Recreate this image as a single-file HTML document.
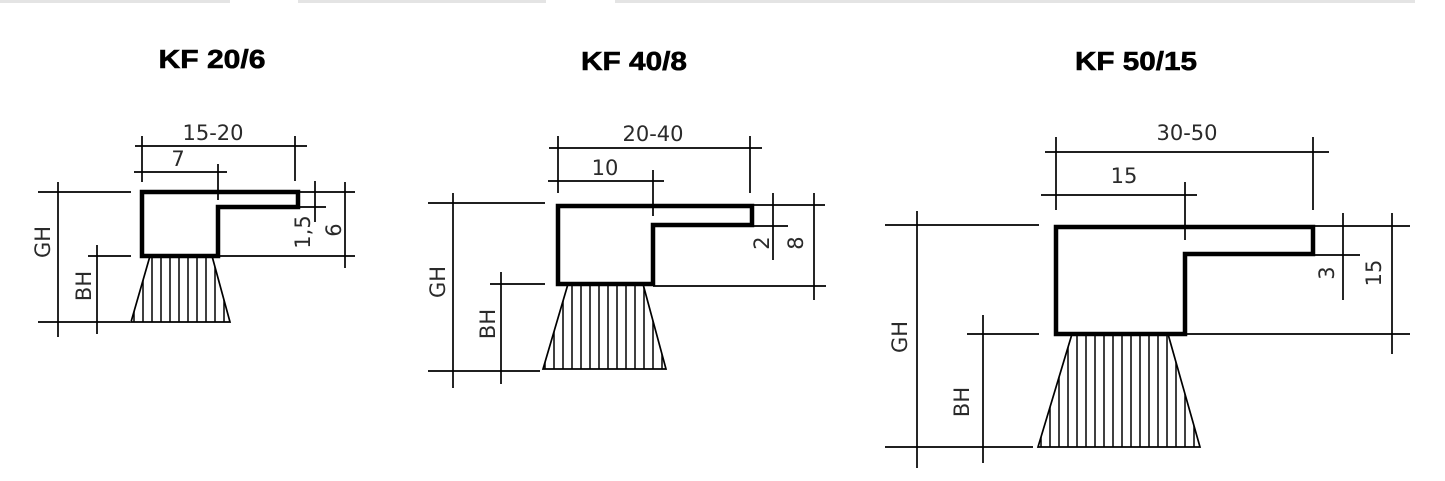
<!DOCTYPE html>
<html><head><meta charset="utf-8"><style>
html,body{margin:0;padding:0;background:#fff;}
svg{display:block;}
.t{font-family:"Liberation Sans",Arial,sans-serif;font-weight:bold;font-size:26px;fill:#000;stroke:#000;stroke-width:0.6;}
.d{font-family:"DejaVu Sans","Liberation Sans",sans-serif;font-size:21px;fill:#2a2a2a;}
.l{stroke:#000;stroke-width:1.7;fill:none;}
.p{stroke:#000;stroke-width:4.5;fill:none;stroke-linejoin:miter;}
.h{stroke:#000;stroke-width:1.5;}
</style></head><body>
<svg width="1445" height="481" viewBox="0 0 1445 481" xmlns="http://www.w3.org/2000/svg">
<defs>
<clipPath id="c1"><polygon points="150,256 212,256 230,322 131,322"/></clipPath>
<clipPath id="c2"><polygon points="568,284 643,284 666,369 543,369"/></clipPath>
<clipPath id="c3"><polygon points="1072,334 1168,334 1200,447 1038,447"/></clipPath>
</defs>
<rect x="0" y="0" width="230" height="3" fill="#e4e4e4"/>
<rect x="298" y="0" width="248" height="3" fill="#e4e4e4"/>
<rect x="615" y="0" width="800" height="3" fill="#e4e4e4"/>

<text class="t" x="212" y="68" text-anchor="middle" textLength="107" lengthAdjust="spacingAndGlyphs">KF 20/6</text>
<text class="t" x="634" y="70" text-anchor="middle" textLength="106" lengthAdjust="spacingAndGlyphs">KF 40/8</text>
<text class="t" x="1136" y="70" text-anchor="middle" textLength="122" lengthAdjust="spacingAndGlyphs">KF 50/15</text>

<!-- ===== Diagram 1 ===== -->
<g>
<path class="p" d="M142,192 L298,192 L298,207 L218,207 L218,256 L142,256 Z"/>
<polygon points="150,256 212,256 230,322 131,322" class="l"/>
<g clip-path="url(#c1)">
<g class="h">
<line x1="134" y1="256" x2="134" y2="322"/><line x1="143" y1="256" x2="143" y2="322"/>
<line x1="152" y1="256" x2="152" y2="322"/><line x1="161" y1="256" x2="161" y2="322"/>
<line x1="170" y1="256" x2="170" y2="322"/><line x1="179" y1="256" x2="179" y2="322"/>
<line x1="188" y1="256" x2="188" y2="322"/><line x1="197" y1="256" x2="197" y2="322"/>
<line x1="206" y1="256" x2="206" y2="322"/><line x1="215" y1="256" x2="215" y2="322"/>
<line x1="224" y1="256" x2="224" y2="322"/>
</g></g>
<line class="l" x1="135" y1="146" x2="307" y2="146"/>
<line class="l" x1="142" y1="136" x2="142" y2="182"/>
<line class="l" x1="295" y1="136" x2="295" y2="181"/>
<line class="l" x1="134" y1="172" x2="227" y2="172"/>
<line class="l" x1="218" y1="164" x2="218" y2="200"/>
<text class="d" x="213" y="140" text-anchor="middle">15-20</text>
<text class="d" x="178" y="166" text-anchor="middle">7</text>
<line class="l" x1="38" y1="192" x2="131" y2="192"/>
<line class="l" x1="38" y1="322" x2="130" y2="322"/>
<line class="l" x1="58" y1="182" x2="58" y2="337"/>
<line class="l" x1="88" y1="256" x2="131" y2="256"/>
<line class="l" x1="97" y1="245" x2="97" y2="334"/>
<text class="d" transform="translate(50,242) rotate(-90)" text-anchor="middle">GH</text>
<text class="d" transform="translate(91,286) rotate(-90)" text-anchor="middle">BH</text>
<line class="l" x1="298" y1="192" x2="355" y2="192"/>
<line class="l" x1="298" y1="207" x2="326" y2="207"/>
<line class="l" x1="218" y1="256" x2="355" y2="256"/>
<line class="l" x1="315" y1="181" x2="315" y2="222"/>
<line class="l" x1="345" y1="182" x2="345" y2="268"/>
<text class="d" transform="translate(310,232) rotate(-90)" text-anchor="middle">1,5</text>
<text class="d" transform="translate(341,230) rotate(-90)" text-anchor="middle">6</text>
</g>

<!-- ===== Diagram 2 ===== -->
<g>
<path class="p" d="M558,206 L752,206 L752,225 L653,225 L653,284 L558,284 Z"/>
<polygon points="568,284 643,284 666,369 543,369" class="l"/>
<g clip-path="url(#c2)">
<g class="h">
<line x1="545" y1="284" x2="545" y2="369"/><line x1="554" y1="284" x2="554" y2="369"/>
<line x1="563" y1="284" x2="563" y2="369"/><line x1="572" y1="284" x2="572" y2="369"/>
<line x1="581" y1="284" x2="581" y2="369"/><line x1="590" y1="284" x2="590" y2="369"/>
<line x1="599" y1="284" x2="599" y2="369"/><line x1="608" y1="284" x2="608" y2="369"/>
<line x1="617" y1="284" x2="617" y2="369"/><line x1="626" y1="284" x2="626" y2="369"/>
<line x1="635" y1="284" x2="635" y2="369"/><line x1="644" y1="284" x2="644" y2="369"/>
<line x1="653" y1="284" x2="653" y2="369"/><line x1="662" y1="284" x2="662" y2="369"/>
</g></g>
<line class="l" x1="549" y1="148" x2="762" y2="148"/>
<line class="l" x1="558" y1="136" x2="558" y2="193"/>
<line class="l" x1="750" y1="136" x2="750" y2="193"/>
<line class="l" x1="548" y1="181" x2="664" y2="181"/>
<line class="l" x1="653" y1="170" x2="653" y2="216"/>
<text class="d" x="653" y="141" text-anchor="middle">20-40</text>
<text class="d" x="605" y="175" text-anchor="middle">10</text>
<line class="l" x1="428" y1="203" x2="545" y2="203"/>
<line class="l" x1="428" y1="371" x2="540" y2="371"/>
<line class="l" x1="453" y1="193" x2="453" y2="388"/>
<line class="l" x1="490" y1="284" x2="545" y2="284"/>
<line class="l" x1="501" y1="272" x2="501" y2="384"/>
<text class="d" transform="translate(445,282) rotate(-90)" text-anchor="middle">GH</text>
<text class="d" transform="translate(495,324) rotate(-90)" text-anchor="middle">BH</text>
<line class="l" x1="752" y1="205" x2="825" y2="205"/>
<line class="l" x1="752" y1="226" x2="788" y2="226"/>
<line class="l" x1="653" y1="286" x2="826" y2="286"/>
<line class="l" x1="773" y1="193" x2="773" y2="260"/>
<line class="l" x1="814" y1="193" x2="814" y2="300"/>
<text class="d" transform="translate(769,243) rotate(-90)" text-anchor="middle">2</text>
<text class="d" transform="translate(803,243) rotate(-90)" text-anchor="middle">8</text>
</g>

<!-- ===== Diagram 3 ===== -->
<g>
<path class="p" d="M1056,227 L1313,227 L1313,254 L1185,254 L1185,334 L1056,334 Z"/>
<polygon points="1072,334 1168,334 1200,447 1038,447" class="l"/>
<g clip-path="url(#c3)">
<g class="h">
<line x1="1041" y1="334" x2="1041" y2="447"/><line x1="1050" y1="334" x2="1050" y2="447"/>
<line x1="1059" y1="334" x2="1059" y2="447"/><line x1="1068" y1="334" x2="1068" y2="447"/>
<line x1="1077" y1="334" x2="1077" y2="447"/><line x1="1086" y1="334" x2="1086" y2="447"/>
<line x1="1095" y1="334" x2="1095" y2="447"/><line x1="1104" y1="334" x2="1104" y2="447"/>
<line x1="1113" y1="334" x2="1113" y2="447"/><line x1="1122" y1="334" x2="1122" y2="447"/>
<line x1="1131" y1="334" x2="1131" y2="447"/><line x1="1140" y1="334" x2="1140" y2="447"/>
<line x1="1149" y1="334" x2="1149" y2="447"/><line x1="1158" y1="334" x2="1158" y2="447"/>
<line x1="1167" y1="334" x2="1167" y2="447"/><line x1="1176" y1="334" x2="1176" y2="447"/>
<line x1="1185" y1="334" x2="1185" y2="447"/><line x1="1194" y1="334" x2="1194" y2="447"/>
</g></g>
<line class="l" x1="1045" y1="152" x2="1329" y2="152"/>
<line class="l" x1="1056" y1="137" x2="1056" y2="210"/>
<line class="l" x1="1313" y1="137" x2="1313" y2="210"/>
<line class="l" x1="1041" y1="195" x2="1197" y2="195"/>
<line class="l" x1="1185" y1="182" x2="1185" y2="240"/>
<text class="d" x="1187" y="140" text-anchor="middle">30-50</text>
<text class="d" x="1124" y="183" text-anchor="middle">15</text>
<line class="l" x1="885" y1="225" x2="1039" y2="225"/>
<line class="l" x1="885" y1="447" x2="1033" y2="447"/>
<line class="l" x1="917" y1="211" x2="917" y2="468"/>
<line class="l" x1="967" y1="334" x2="1039" y2="334"/>
<line class="l" x1="983" y1="315" x2="983" y2="463"/>
<text class="d" transform="translate(907,337) rotate(-90)" text-anchor="middle">GH</text>
<text class="d" transform="translate(969,402) rotate(-90)" text-anchor="middle">BH</text>
<line class="l" x1="1313" y1="226" x2="1410" y2="226"/>
<line class="l" x1="1313" y1="255" x2="1360" y2="255"/>
<line class="l" x1="1185" y1="334" x2="1410" y2="334"/>
<line class="l" x1="1343" y1="213" x2="1343" y2="300"/>
<line class="l" x1="1392" y1="213" x2="1392" y2="354"/>
<text class="d" transform="translate(1334,273) rotate(-90)" text-anchor="middle">3</text>
<text class="d" transform="translate(1381,273) rotate(-90)" text-anchor="middle">15</text>
</g>
</svg>
</body></html>
